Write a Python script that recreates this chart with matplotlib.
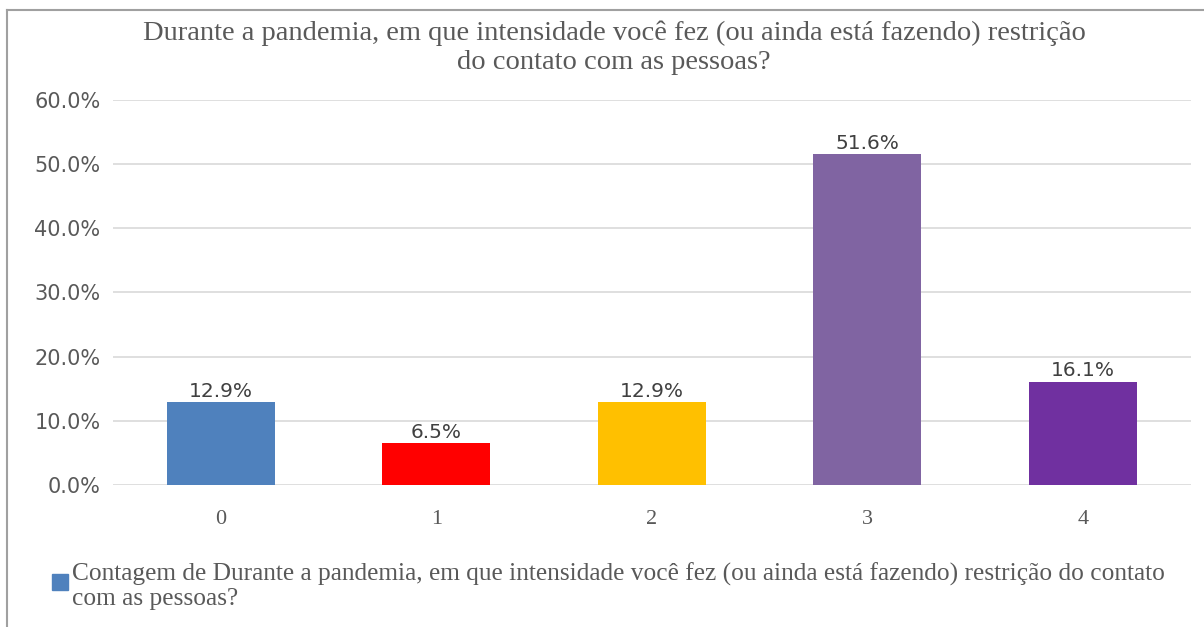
import matplotlib.pyplot as plt
from matplotlib.lines import Line2D
from matplotlib.patches import Rectangle
from matplotlib.ticker import FuncFormatter

categories = ["0", "1", "2", "3", "4"]
values = [12.9, 6.5, 12.9, 51.6, 16.1]
colors = ["#4f81bd", "#ff0000", "#ffc000", "#8064a2", "#7030a0"]
yticks = [0, 10, 20, 30, 40, 50, 60]

title = ("Durante a pandemia, em que intensidade você fez (ou ainda está fazendo) restrição\n"
         "do contato com as pessoas?")
legend_text = ("Contagem de Durante a pandemia, em que intensidade você fez (ou ainda está fazendo) "
               "restrição do contato\ncom as pessoas?")

text_color = "#595959"
serif = "Liberation Serif"

fig = plt.figure(figsize=(12.04, 6.27), dpi=100)
ax = fig.add_axes([0.0939, 0.2265, 0.895, 0.614])

x = range(len(categories))
bars = ax.bar(x, values, width=0.5, color=colors, zorder=3)
for b, v in zip(bars, values):
    ax.annotate(f"{v:.1f}%", (b.get_x() + b.get_width() / 2, v),
                xytext=(0, 1), textcoords="offset points",
                ha="center", va="bottom", fontsize=14.5, color="#404040")

ax.set_ylim(0, 60)
ax.set_xlim(-0.5, len(categories) - 0.5)
ax.set_yticks(yticks)
ax.yaxis.set_major_formatter(FuncFormatter(lambda v, p: f"{v:.1f}%"))
ax.set_xticks(list(x))
ax.set_xticklabels(categories, fontfamily=serif, fontsize=16)
ax.tick_params(axis="y", labelsize=15, labelcolor=text_color, length=0, pad=9)
ax.tick_params(axis="x", labelcolor=text_color, length=0, pad=18)
ax.grid(axis="y", color="#d9d9d9", linewidth=1.2, zorder=0)
for s in ax.spines.values():
    s.set_visible(False)

fig.text(0.510, 0.968, title, ha="center", va="top", fontfamily=serif,
         fontsize=20.5, color=text_color, linespacing=1.25)

# legend
fig.patches.append(Rectangle((52 / 1204, 1 - 590 / 627), 16 / 1204, 16 / 627,
                             transform=fig.transFigure, color="#4f81bd"))
fig.text(72 / 1204, 1 - 563 / 627, legend_text, ha="left", va="top",
         fontfamily=serif, fontsize=18.3, color=text_color, linespacing=1.12)

# chart border
fig.add_artist(Line2D([7 / 1204, 7 / 1204], [0, 1 - 10 / 627],
                      transform=fig.transFigure, color="#a0a0a0", linewidth=1.5))
fig.add_artist(Line2D([7 / 1204, 1], [1 - 10 / 627, 1 - 10 / 627],
                      transform=fig.transFigure, color="#a0a0a0", linewidth=1.5))

fig.savefig("out.png", dpi=100)
